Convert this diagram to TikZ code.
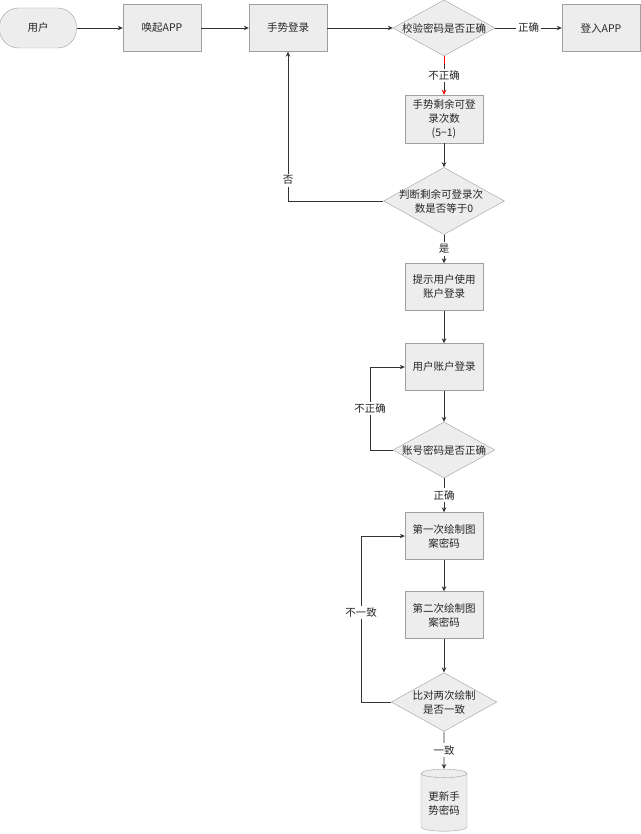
\documentclass[tikz,border=0pt]{standalone}
\usepackage{fontspec}
\setmainfont{Noto Sans CJK SC}
\usetikzlibrary{shapes.geometric,arrows.meta}
\begin{document}
\begin{tikzpicture}[x=1pt,y=-1pt,
  every node/.style={font=\fontsize{10.5}{14}\selectfont, text=black!85},
  box/.style={draw=gray!75, fill=gray!14, minimum width=78pt, minimum height=47pt, align=center, inner sep=1pt},
  dia/.style={diamond, draw=gray!75, fill=gray!14, minimum width=102pt, minimum height=56pt, aspect=1.8, inner sep=0pt, align=center},
  lbl/.style={fill=white, inner sep=2pt},
  ar/.style={draw=black!80, line width=0.7pt, -{Stealth[length=5pt,width=4.5pt]}},
  ln/.style={draw=black!80, line width=0.7pt}]
\useasboundingbox (0,0) rectangle (640,834);
\node[draw=gray!75, fill=gray!14, rounded corners=19pt, minimum width=77pt, minimum height=40pt] (u) at (38,28) {用户};
\node[box] (b1) at (162,28) {唤起APP};
\node[box] (b2) at (288,28) {手势登录};
\node[dia] (d1) at (444,28) {\hspace{-6pt}校验密码是否正确\hspace{-6pt}};
\node[box] (b3) at (601,28) {登入APP};
\node[box, minimum height=48pt] (b4) at (444,119) {手势剩余可登\\录次数\\(5−1)};
\node[dia] (d2) at (444,201) {\hspace{-6pt}判断剩余可登录次\hspace{-6pt}\\数是否等于0};
\node[box] (b5) at (444,287) {提示用户使用\\账户登录};
\node[box] (b6) at (444,367) {用户账户登录};
\node[dia] (d3) at (444,450) {\hspace{-6pt}账号密码是否正确\hspace{-6pt}};
\node[box] (b7) at (444,536) {第一次绘制图\\案密码};
\node[box] (b8) at (444,615) {第二次绘制图\\案密码};
\node[dia, minimum height=54pt] (d4) at (444,702) {比对两次绘制\\是否一致};
\node[cylinder, shape border rotate=90, aspect=0.25, draw=gray!75, fill=gray!14, minimum width=46pt, minimum height=62pt, align=center, inner sep=1pt] (c) at (444,803) {更新手\\势密码};
\coordinate (k1) at (288,201);
\coordinate (k2) at (370,450);
\coordinate (k3) at (370,367);
\coordinate (k4) at (361,702);
\coordinate (k5) at (361,536);
\draw[ar] (u) -- (b1);
\draw[ar] (b1) -- (b2);
\draw[ar] (b2) -- (d1);
\draw[ar] (d1) -- node[lbl]{正确} (b3);
\draw[ar, -{Stealth[length=5pt,width=4.5pt,red]}] (d1) -- node[lbl]{不正确} (b4);
\draw[red, line width=0.7pt] (d1.south) -- ++(0,8);
\draw[ar] (b4) -- (d2);
\draw[ar] (d2.west) -- (k1) -- node[lbl, pos=0.14]{否} (b2);
\draw[ar] (d2) -- node[lbl]{是} (b5);
\draw[ar] (b5) -- (b6);
\draw[ar] (b6) -- (d3);
\draw[ar] (d3.west) -- (k2) -- node[lbl]{不正确} (k3) -- (b6);
\draw[ar] (d3) -- node[lbl]{正确} (b7);
\draw[ar] (b7) -- (b8);
\draw[ar] (b8) -- (d4);
\draw[ar] (d4.west) -- (k4) -- node[lbl, pos=0.54]{不一致} (k5) -- (b7);
\draw[ar] (d4) -- node[lbl]{一致} (c);
\end{tikzpicture}
\end{document}
